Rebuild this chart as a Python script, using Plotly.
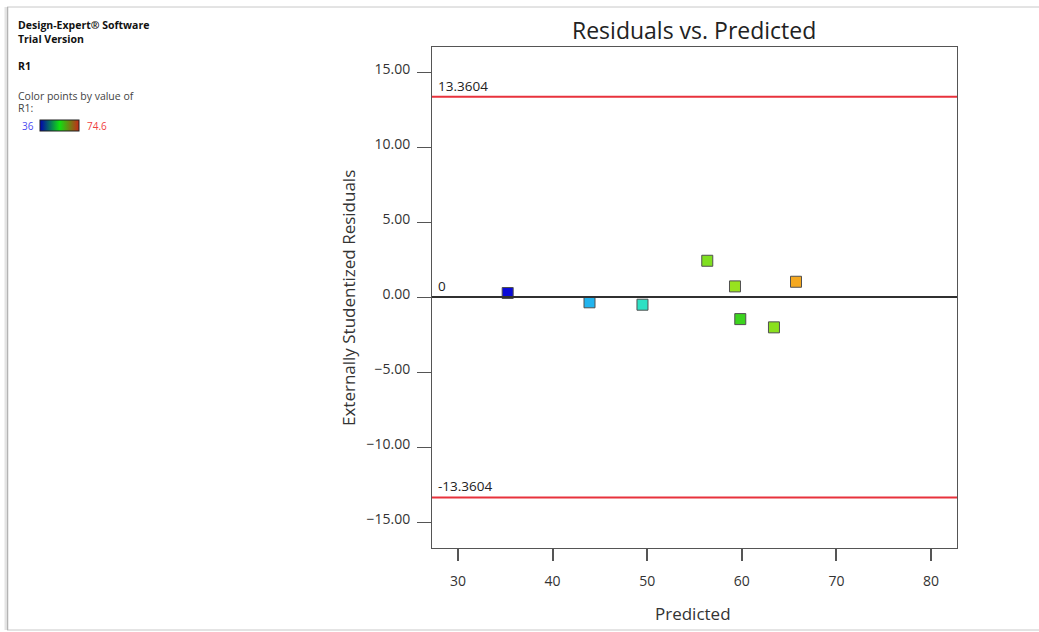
import plotly.graph_objects as go

# ---- data -------------------------------------------------------------
predicted = [35.25, 43.9, 49.5, 56.35, 59.28, 65.73, 59.84, 63.4]
residuals = [0.27, -0.35, -0.51, 2.42, 0.71, 1.02, -1.47, -2.02]
point_colors = ["#0a0ad8", "#22b4ee", "#2ee0c4", "#80e020", "#98e21e",
                "#f4a820", "#3cd41e", "#8ae01e"]
limit_upper = 13.3604
limit_lower = -13.3604
r1_min, r1_max = 36, 74.6
x_ticks = [30, 40, 50, 60, 70, 80]
y_ticks = [-15, -10, -5, 0, 5, 10, 15]

W, H = 1039, 632
ML, MR, MT, MB = 432, 82, 47, 84
PW, PH = W - ML - MR, H - MT - MB


def px(x):
    return (x - ML) / PW


def py(y):
    return (H - MB - y) / PH


FONT = "Open Sans"
TXT = "#333333"

fig = go.Figure()

# residual points
fig.add_trace(go.Scatter(
    x=predicted, y=residuals, mode="markers",
    marker=dict(symbol="square", size=11, color=point_colors,
                line=dict(color="#505050", width=1)),
    showlegend=False, hoverinfo="x+y",
))

# colour key for R1
fig.add_trace(go.Scatter(
    x=[None], y=[None], mode="markers", showlegend=False,
    marker=dict(
        color=[r1_min], cmin=r1_min, cmax=r1_max,
        colorscale=[[0, "#0000b0"], [0.5, "#10e010"], [1, "#c82818"]],
        showscale=True,
        colorbar=dict(
            orientation="h", x=px(40), y=py(120), xanchor="left", yanchor="top",
            lenmode="pixels", len=39, thicknessmode="pixels", thickness=11,
            xpad=0, ypad=0, outlinecolor="#202020", outlinewidth=1,
            showticklabels=False, ticks="",
        ),
    ),
))

shapes = []
# reference lines
for val, col in [(limit_upper, "#e8323c"), (limit_lower, "#e8323c"), (0, "#303030")]:
    shapes.append(dict(type="line", xref="paper", yref="y", x0=0, x1=1,
                       y0=val, y1=val, line=dict(color=col, width=2)))
# page frame
frame = "#c8c8c8"
shapes.append(dict(type="line", xref="paper", yref="paper", x0=px(7), x1=px(W + 5),
                   y0=py(7), y1=py(7), line=dict(color=frame, width=1)))
shapes.append(dict(type="line", xref="paper", yref="paper", x0=px(7), x1=px(W + 5),
                   y0=py(630), y1=py(630), line=dict(color=frame, width=1)))
shapes.append(dict(type="line", xref="paper", yref="paper", x0=px(5.5), x1=px(5.5),
                   y0=py(7), y1=py(630), line=dict(color="#e4e4e4", width=2)))
shapes.append(dict(type="line", xref="paper", yref="paper", x0=px(7.5), x1=px(7.5),
                   y0=py(7), y1=py(630), line=dict(color="#b4b4b4", width=1.5)))

annotations = []


def note(text, x, y, size, color=TXT, bold=False, xanchor="left", **kw):
    if bold:
        text = f"<b>{text}</b>"
    annotations.append(dict(text=text, xref="paper", yref="paper", x=px(x), y=py(y),
                            xanchor=xanchor, yanchor="middle", showarrow=False,
                            font=dict(family=FONT, size=size, color=color), **kw))


note("Design-Expert® Software", 16, 25, 10.5, "#111111", bold=True)
note("Trial Version", 16, 39, 10.5, "#111111", bold=True)
note("R1", 16, 66, 10.5, "#111111", bold=True)
note("Color points by value of", 16, 96, 10.5, "#444444")
note("R1:", 16, 108, 10.5, "#444444")
note(f"{r1_min:g}", 20, 126, 10, "#4a4af0")
note(f"{r1_max:g}", 85, 126, 10, "#f04040")

note("Residuals vs. Predicted", 694, 30, 23, "#222222", xanchor="center")
note("Predicted", 693, 613, 17, TXT, xanchor="center")
note("Externally Studentized Residuals", 348, 298, 17, TXT, xanchor="center",
     textangle=-90)

# reference line labels
for val in [limit_upper, 0, limit_lower]:
    annotations.append(dict(text=f"{val:g}", xref="paper", yref="y", x=px(436), y=val,
                            xanchor="left", yanchor="bottom", yshift=0, showarrow=False,
                            font=dict(family=FONT, size=13.5, color="#222222")))

fig.update_layout(
    width=W, height=H, autosize=False,
    margin=dict(l=ML, r=MR, t=MT, b=MB, pad=0),
    paper_bgcolor="white", plot_bgcolor="white",
    font=dict(family=FONT, color=TXT),
    shapes=shapes, annotations=annotations,
    xaxis=dict(range=[27.25, 82.75], tickvals=x_ticks, ticks="outside", ticklen=12,
               tickcolor="#555555", tickwidth=1.5, showline=True, linecolor="#555555",
               linewidth=1, mirror=True, showgrid=False, zeroline=False,
               ticklabelstandoff=8, tickfont=dict(size=14, color=TXT)),
    yaxis=dict(range=[-16.73, 16.67], tickvals=y_ticks, tickformat=".2f",
               ticks="outside", ticklen=14, tickcolor="#555555", tickwidth=1,
               showline=True, linecolor="#555555", linewidth=1, mirror=True,
               showgrid=False, zeroline=False, ticklabelstandoff=4,
               ticklabelshift=-3, tickfont=dict(size=14, color=TXT)),
)

fig.write_html("out.html")
